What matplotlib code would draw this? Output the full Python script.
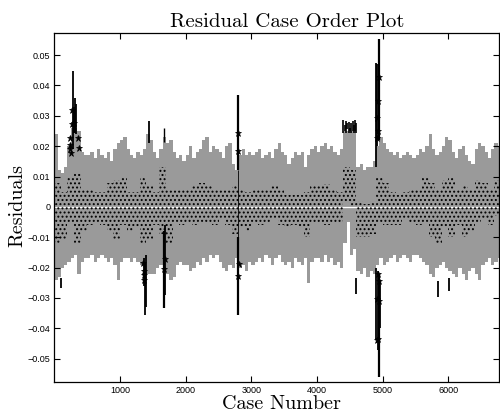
import numpy as np
import matplotlib
matplotlib.use('Agg')
import matplotlib.pyplot as plt

# ---------------- data (in units of 1e-3) -------------
# envelope of the gray residual intervals, per 50 cases
bin_cases = 50
gray_top = [24, 12, 11, 13, 20, 26, 26, 25, 18, 17,
            17, 18, 16, 19, 17, 16, 18, 15, 19, 21,
            22, 23, 19, 17, 16, 18, 17, 19, 24, 22,
            18, 16, 19, 23, 21, 22, 18, 16, 17, 15,
            17, 20, 16, 18, 19, 22, 23, 18, 20, 19,
            18, 16, 20, 21, 14, 12, 17, 19, 17, 18,
            17, 18, 19, 16, 17, 18, 16, 19, 21, 18,
            17, 14, 16, 18, 17, 18, 13, 17, 19, 20,
            18, 20, 21, 19, 20, 18, 17, 19, 25, 25,
            25, 25, 13, 14, 12, 13, 13, 15, 20, 23,
            21, 19, 18, 17, 18, 16, 17, 18, 17, 16,
            17, 19, 18, 20, 24, 19, 17, 18, 20, 23,
            22, 18, 16, 19, 20, 17, 15, 14, 19, 21,
            20, 18, 16, 19, 21, 20]
gray_bot = [-24, -23, -20, -19, -18, -17, -16, -22, -18, -17,
            -17, -16, -18, -17, -16, -17, -18, -17, -19, -24,
            -18, -17, -17, -18, -17, -18, -19, -20, -22, -22,
            -22, -20, -19, -21, -22, -24, -23, -19, -18, -19,
            -19, -21, -20, -18, -19, -17, -18, -16, -17, -16,
            -18, -20, -21, -19, -20, -17, -20, -19, -21, -18,
            -19, -18, -17, -18, -16, -17, -19, -17, -16, -18,
            -19, -18, -20, -17, -18, -19, -17, -25, -18, -17,
            -17, -18, -16, -18, -17, -19, -18, -20, -12, -5,
            -16, -14, -21, -22, -20, -23, -21, -22, -19, -17,
            -19, -18, -17, -16, -18, -17, -16, -17, -18, -16,
            -16, -17, -18, -19, -22, -23, -20, -19, -18, -20,
            -21, -22, -23, -20, -22, -24, -21, -20, -22, -24,
            -19, -18, -17, -19, -18, -17]

# extent of the residual point cloud, per 100 cases
dot_cases = 100
dot_top = [8, 5, 10, 11, 6, 6, 5, 5, 8, 9,
           10, 5, 5, 10, 7, 5, 13, 6, 6, 6,
           6, 7, 8, 7, 6, 6, 6, 7, 6, 5,
           6, 6, 6, 7, 6, 4, 4, 4, 5, 7,
           7, 7.5, 6, 5, 13, 12, 2, 1, 2, 10,
           8, 5, 4, 5, 6, 6, 10, 8, 6, 9,
           10, 6, 7, 6, 9, 8, 6, 9]
dot_bot = [-12, -11, -5, -12, -8, -6, -5, -6, -8, -11,
           -6, -8, -7, -12, -11, -6, -9, -12, -5, -6,
           -5, -6, -5, -5, -6, -4, -6, -9, -7, -8,
           -5, -6, -5, -4, -6, -7, -6, -7, -10, -5,
           -5, -6, -5, -5, 2, 0, -10, -10, -9, -5,
           -6, -6, -6, -4, -5, -6, -5, -10, -12, -7,
           -10, -6, -10, -8, -5, -4, -6, -3]

# outlier intervals (visible black parts)
seg_case = [95, 283, 300, 318, 335,
            1365, 1380, 1395, 1440, 1665, 1670, 1685,
            2795, 2797, 2800,
            4400, 4420, 4440, 4460, 4480, 4500, 4520, 4540, 4560, 4575, 4590, 4595,
            4900, 4915, 4940, 4950, 4905, 4925, 4945, 4960,
            5840, 6010]
seg_lo = [-26.6, 19, 24.5, 24.5, 24,
          -26, -35.5, -33, 21, 21.5, -33.2, -29,
          12, -10, -35.5,
          24.5, 25, 24.5, 25.5, 24.5, 25, 24.5, 25, 24.5, 25, 24.5, -28.7,
          13, 20, 22, 25, -44, -47, -56, -40,
          -29.8, -27.6]
seg_hi = [-23.5, 44.7, 33, 35.8, 34,
          -17, -18, -16, 28.3, 26, -8, -6,
          36.8, 12, -10,
          28.5, 27, 28.3, 27.5, 28, 26, 27.8, 28.2, 27, 28.5, 27.5, -23.5,
          47.5, 47, 55.3, 42, -20, -21, -22, -24,
          -24.5, -23.5]
seg_width = [1.3, 1.3, 1.3, 1.3, 1.3,
             1.3, 1.3, 1.3, 1.3, 1.0, 1.6, 1.3,
             1.6, 0.6, 1.6,
             1.2, 1.2, 1.2, 1.2, 1.2, 1.2, 1.2, 1.2, 1.2, 1.2, 1.2, 1.3,
             1.3, 1.3, 1.6, 1.3, 1.3, 1.3, 1.6, 1.3,
             1.3, 1.3]

star_case = [240, 242, 245, 247, 270, 272, 300, 365, 370,
             1355, 1360, 1365, 1370, 1670, 1685,
             2790, 2795, 2800, 2805,
             4910, 4920, 4930, 4935, 4940,
             4910, 4920, 4925, 4935, 4940, 4950]
star_res = [22.6, 20.5, 19, 17.6, 32, 27.3, 27.5, 22.6, 19.5,
            -18.5, -21, -22.5, -24, -20.5, -17.1,
            18.4, 24.4, -22.7, -18.8,
            22.8, 29.4, 25, 34.9, 42.8,
            -30.4, -44, -22.1, -43.5, -24.3, -31]

xticks = [1000, 2000, 3000, 4000, 5000, 6000]
xtick_labels = ['1000', '2000', '3000', '4000', '5000', '6000']
yticks = [-0.05, -0.04, -0.03, -0.02, -0.01, 0, 0.01, 0.02, 0.03, 0.04, 0.05]
ytick_labels = ['\u22120.05', '\u22120.04', '\u22120.03', '\u22120.02', '\u22120.01', '0',
                '0.01', '0.02', '0.03', '0.04', '0.05']
n_cases = 6770
title = 'Residual Case Order Plot'
xlabel = 'Case Number'
ylabel = 'Residuals'

# ---------------- plotting ----------------
plt.rcParams['font.family'] = ['Liberation Sans', 'DejaVu Sans']
plt.rcParams['hatch.linewidth'] = 0.9
plt.rcParams['hatch.color'] = 'black'

scale = 1e-3
gray = '#9a9a9a'

fig = plt.figure(figsize=(5.0, 4.12), dpi=100)
ax = fig.add_axes([0.1086, 0.0721, 0.8894, 0.8471])

gt = np.array(gray_top) * scale
gb = np.array(gray_bot) * scale
edges = np.arange(len(gt) + 1) * bin_cases
ax.fill_between(edges, np.append(gb, gb[-1]), np.append(gt, gt[-1]), step='post',
                color=gray, linewidth=0, zorder=1)

ax.axhline(0, color='white', linewidth=0.9, zorder=2)

dt = np.array(dot_top) * scale
db = np.array(dot_bot) * scale
dot_left = np.arange(len(dt)) * dot_cases
ax.bar(dot_left, dt - db, bottom=db, width=dot_cases, align='edge',
       facecolor='none', edgecolor='black', linewidth=0, hatch='....', zorder=3)

ax.vlines(seg_case, np.array(seg_lo) * scale, np.array(seg_hi) * scale,
          colors='black', linewidths=seg_width, zorder=4)
ax.plot(star_case, np.array(star_res) * scale, linestyle='none', marker='*',
        color='black', markersize=4.5, markeredgewidth=0.5, zorder=5)

ax.set_xlim(0, n_cases)
ax.set_ylim(-0.0578, 0.0572)
ax.set_xticks(xticks)
ax.set_xticklabels(xtick_labels)
ax.set_yticks(yticks)
ax.set_yticklabels(ytick_labels)
ax.tick_params(direction='in', length=4, width=0.8, top=True, right=True,
               labelsize=6.5, pad=3)
for sp in ax.spines.values():
    sp.set_linewidth(0.9)

ax.text(0.523, 1.019, title, transform=ax.transAxes, ha='center', va='baseline',
        fontsize=15, family='cmr10')
ax.set_xlabel(xlabel, fontsize=14.5, family='cmr10')
ax.xaxis.set_label_coords(0.511, -0.036)
ax.set_ylabel(ylabel, fontsize=14.5, family='cmr10')
ax.yaxis.set_label_coords(-0.062, 0.508)

fig.savefig('out.png', dpi=100)
